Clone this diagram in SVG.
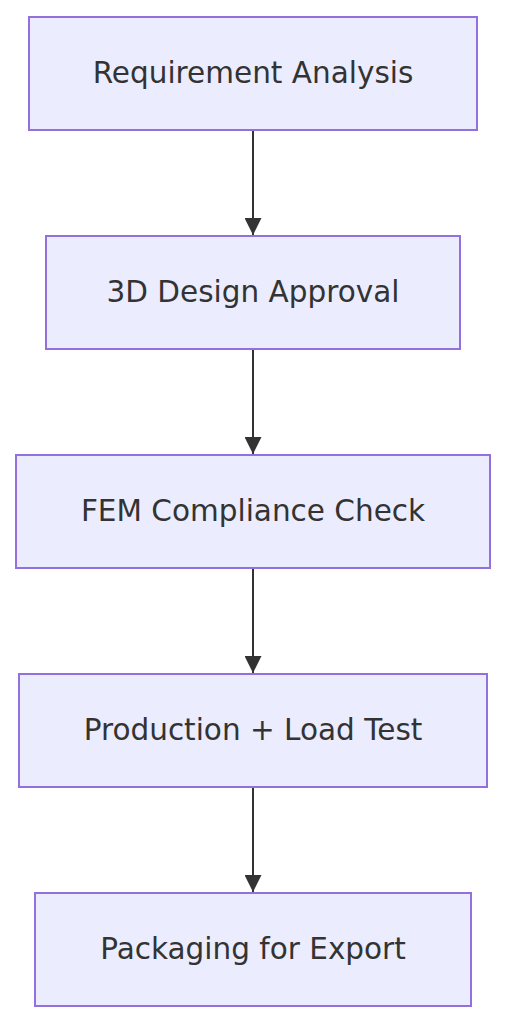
<svg xmlns="http://www.w3.org/2000/svg" width="507" height="1024" viewBox="0 0 507 1024">
<style>
.node rect{fill:#ECECFF;stroke:#9370DB;stroke-width:2}
.node text{font-family:"DejaVu Sans",sans-serif;font-size:29.5px;fill:#333;text-anchor:middle;dominant-baseline:central}
.edge{stroke:#333;stroke-width:2;fill:none}
</style>
<defs>
<marker id="arrow" viewBox="0 0 10 10" refX="10" refY="5" markerWidth="17" markerHeight="17" markerUnits="userSpaceOnUse" orient="auto"><path d="M0,0L10,5L0,10z" fill="#333"/></marker>
</defs>
<rect width="507" height="1024" fill="#fff"/>
<g id="connectors">
<path class="edge" d="M253,131V235" marker-end="url(#arrow)"/>
<path class="edge" d="M253,350V454" marker-end="url(#arrow)"/>
<path class="edge" d="M253,569V673" marker-end="url(#arrow)"/>
<path class="edge" d="M253,788V892" marker-end="url(#arrow)"/>
</g>
<g id="n1" class="node"><rect x="29" y="17" width="448" height="113"/><text x="253" y="73">Requirement Analysis</text></g>
<g id="n2" class="node"><rect x="46" y="236" width="414" height="113"/><text x="253" y="292">3D Design Approval</text></g>
<g id="n3" class="node"><rect x="16" y="455" width="474" height="113"/><text x="253" y="511">FEM Compliance Check</text></g>
<g id="n4" class="node"><rect x="19" y="674" width="468" height="113"/><text x="253" y="730">Production + Load Test</text></g>
<g id="n5" class="node"><rect x="35" y="893" width="436" height="113"/><text x="253" y="949">Packaging for Export</text></g>
</svg>
